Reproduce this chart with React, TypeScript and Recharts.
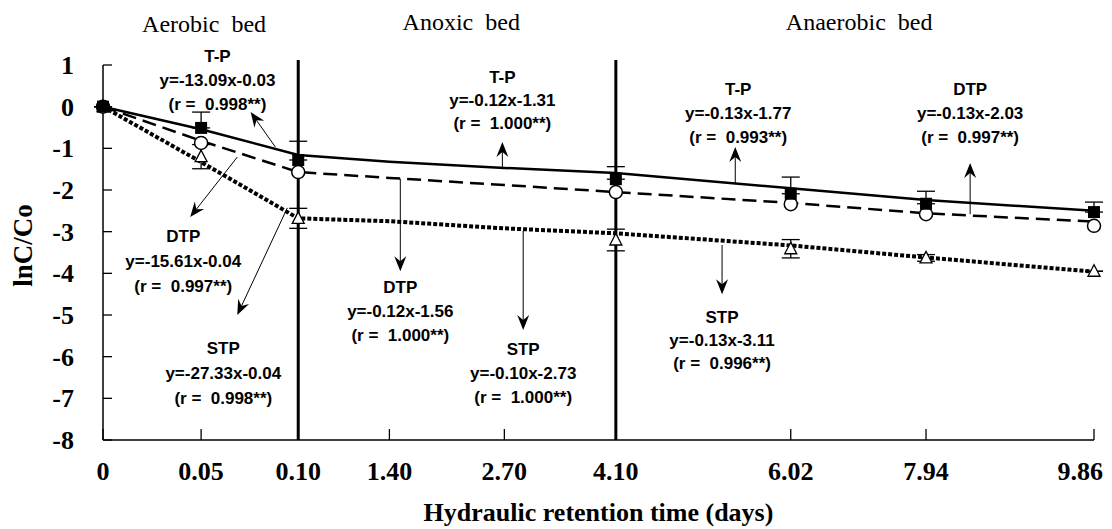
import React from "react";
import {
  ComposedChart,
  Line,
  XAxis,
  YAxis,
  ReferenceLine,
  ReferenceDot,
  ErrorBar,
} from "recharts";

document.body.style.margin = "0";

const SERIF = "'Times New Roman', 'Liberation Serif', serif";
const SANS = "Arial, 'Liberation Sans', sans-serif";

// x categories (days) and where each one sits on the uneven axis
const categories = ["0", "0.05", "0.10", "1.40", "2.70", "4.10", "6.02", "7.94", "9.86"];
const slots = [0, 0.99, 1.97, 2.89, 4.05, 5.175, 6.94, 8.305, 10];

const yTicks = [-8, -7, -6, -5, -4, -3, -2, -1, 0, 1];

// measured means (lnC/Co)
const tpMeasured = [0, -0.51, -1.28, null, null, -1.74, -2.09, -2.33, -2.53];
const dtpMeasured = [0, -0.87, -1.57, null, null, -2.05, -2.34, -2.58, -2.86];
const stpMeasured = [0, -1.2, -2.68, null, null, -3.2, -3.41, -3.63, -3.95];

// error bars [down, up]
const tpError = [[0, 0], [0, 0.38], [0, 0.45], null, null, [0, 0.3], [0, 0.4], [0, 0.3], [0, 0.24]];
const stpError = [[0, 0], [0.29, 0.29], [0.24, 0.24], null, null, [0.26, 0.26], [0.22, 0.22], [0.08, 0.08], [0, 0]];

// regression lines per bed
const tpFit = [0, -0.54, -1.16, -1.32, -1.47, -1.59, -1.96, -2.24, -2.5];
const dtpFit = [0, -0.82, -1.57, -1.71, -1.88, -2.05, -2.31, -2.56, -2.76];
const stpFit = [0, -1.33, -2.68, -2.75, -2.92, -3.04, -3.33, -3.62, -3.96];

const rows = categories.map((c, i) => ({
  slot: slots[i],
  label: c,
  tp: tpMeasured[i],
  dtp: dtpMeasured[i],
  stp: stpMeasured[i],
  tpErr: tpError[i],
  stpErr: stpError[i],
  tpFit: tpFit[i],
  dtpFit: dtpFit[i],
  stpFit: stpFit[i],
}));

// bed titles above the plot
const bedTitles = [
  { text: "Aerobic  bed", x: 1.02, y: 1.79 },
  { text: "Anoxic  bed", x: 3.615, y: 1.84 },
  { text: "Anaerobic  bed", x: 7.63, y: 1.84 },
];

// regression notes and their arrows
const notes = [
  { x: 1.155, y: 1.07, gap: 24, lines: ["T-P", "y=-13.09x-0.03", "(r =  0.998**)"] },
  { x: 0.81, y: -3.25, gap: 25, lines: ["DTP", "y=-15.61x-0.04", "(r =  0.997**)"] },
  { x: 1.214, y: -5.94, gap: 25, lines: ["STP", "y=-27.33x-0.04", "(r =  0.998**)"] },
  { x: 4.03, y: 0.57, gap: 23, lines: ["T-P", "y=-0.12x-1.31", "(r =  1.000**)"] },
  { x: 3.0, y: -4.47, gap: 24, lines: ["DTP", "y=-0.12x-1.56", "(r =  1.000**)"] },
  { x: 4.24, y: -5.96, gap: 24, lines: ["STP", "y=-0.10x-2.73", "(r =  1.000**)"] },
  { x: 6.41, y: 0.28, gap: 24, lines: ["T-P", "y=-0.13x-1.77", "(r =  0.993**)"] },
  { x: 8.75, y: 0.28, gap: 24, lines: ["DTP", "y=-0.13x-2.03", "(r =  0.997**)"] },
  { x: 6.247, y: -5.19, gap: 23, lines: ["STP", "y=-0.13x-3.11", "(r =  0.996**)"] },
];

const arrows = [
  { from: [1.74, -0.97], to: [1.49, -0.13] },
  { from: [1.355, -1.21], to: [0.88, -2.65] },
  { from: [1.86, -2.43], to: [1.355, -5.0] },
  { from: [4.03, -1.5], to: [4.03, -0.85] },
  { from: [3.0, -1.73], to: [3.0, -3.95] },
  { from: [4.24, -2.98], to: [4.24, -5.36] },
  { from: [6.38, -1.86], to: [6.38, -0.97] },
  { from: [8.75, -2.58], to: [8.75, -1.35] },
  { from: [6.247, -3.32], to: [6.247, -4.5] },
];

const dividers = [slots[2], slots[5]];

function ArrowShape(props: any) {
  const { x1, y1, x2, y2 } = props;
  const ang = Math.atan2(y2 - y1, x2 - x1);
  const c = Math.cos(ang);
  const s = Math.sin(ang);
  const len = 15;
  const hw = 6;
  const notch = 10;
  const bx = x2 - len * c;
  const by = y2 - len * s;
  const nx = x2 - notch * c;
  const ny = y2 - notch * s;
  const pts = [
    [x2, y2],
    [bx - hw * s, by + hw * c],
    [nx, ny],
    [bx + hw * s, by - hw * c],
  ]
    .map((p) => p.join(","))
    .join(" ");
  return (
    <g>
      <line x1={x1} y1={y1} x2={nx} y2={ny} stroke="#000" strokeWidth={1} />
      <polygon points={pts} fill="#000" />
    </g>
  );
}

function noteShape(lines: string[], gap: number) {
  return (props: any) => (
    <text
      x={props.cx}
      y={props.cy}
      textAnchor="middle"
      fontFamily={SANS}
      fontWeight="bold"
      fontSize={17}
      fill="#000"
      style={{ whiteSpace: "pre" }}
    >
      {lines.map((l, i) => (
        <tspan key={i} x={props.cx} dy={i === 0 ? 0 : gap}>
          {l}
        </tspan>
      ))}
    </text>
  );
}

function titleShape(text: string) {
  return (props: any) => (
    <text
      x={props.cx}
      y={props.cy}
      textAnchor="middle"
      fontFamily={SERIF}
      fontSize={24}
      fill="#000"
      style={{ whiteSpace: "pre" }}
    >
      {text}
    </text>
  );
}

function SquareDot(props: any) {
  const { cx, cy, index } = props;
  if (cx == null || cy == null || Number.isNaN(cy)) return <g key={index} />;
  return <rect key={index} x={cx - 6} y={cy - 6} width={12} height={12} fill="#000" />;
}

function CircleDot(props: any) {
  const { cx, cy, index } = props;
  if (cx == null || cy == null || Number.isNaN(cy)) return <g key={index} />;
  return <circle key={index} cx={cx} cy={cy} r={6.5} fill="#fff" stroke="#000" strokeWidth={1.5} />;
}

function TriangleDot(props: any) {
  const { cx, cy, index } = props;
  if (cx == null || cy == null || Number.isNaN(cy)) return <g key={index} />;
  const pts = `${cx},${cy - 6.5} ${cx - 6},${cy + 5} ${cx + 6},${cy + 5}`;
  return <polygon key={index} points={pts} fill="#fff" stroke="#000" strokeWidth={1.3} />;
}

function XTick(props: any) {
  const { x, y, payload } = props;
  const i = slots.indexOf(payload.value);
  const last = i === slots.length - 1;
  return (
    <g>
      <line x1={x} y1={y} x2={x} y2={y - 11} stroke="#000" strokeWidth={1.3} />
      <text
        x={last ? x + 9 : x}
        y={y + 40}
        textAnchor={last ? "end" : "middle"}
        fontFamily={SERIF}
        fontWeight="bold"
        fontSize={26}
        fill="#000"
      >
        {categories[i]}
      </text>
    </g>
  );
}

function YTick(props: any) {
  const { x, y, payload } = props;
  return (
    <g>
      <line x1={x} y1={y} x2={x + 9} y2={y} stroke="#000" strokeWidth={1.3} />
      <text x={x - 29} y={y + 9} textAnchor="end" fontFamily={SERIF} fontWeight="bold" fontSize={26} fill="#000">
        {payload.value}
      </text>
    </g>
  );
}

export default function App() {
  return (
    <ComposedChart width={1112} height={529} data={rows} margin={{ top: 65, right: 18, bottom: 0, left: 0 }}>
      <XAxis
        dataKey="slot"
        type="number"
        domain={[0, 10]}
        ticks={slots}
        interval={0}
        tick={<XTick />}
        tickLine={false}
        tickSize={0}
        tickMargin={0}
        height={89}
        axisLine={{ stroke: "#000", strokeWidth: 1.5 }}
        label={{
          content: (p: any) => {
            const vb = p.viewBox;
            return (
              <text
                x={vb.x + vb.width / 2}
                y={vb.y + 81}
                textAnchor="middle"
                fontFamily={SERIF}
                fontWeight="bold"
                fontSize={26}
                fill="#000"
              >
                Hydraulic retention time (days)
              </text>
            );
          },
        }}
      />
      <YAxis
        type="number"
        domain={[-8, 1]}
        ticks={yTicks}
        interval={0}
        width={103}
        tick={<YTick />}
        tickLine={false}
        tickSize={0}
        tickMargin={0}
        axisLine={{ stroke: "#000", strokeWidth: 1.5 }}
        label={{
          content: (p: any) => {
            const vb = p.viewBox;
            const cx = vb.x + 32;
            const cy = vb.y + vb.height / 2 - 7;
            return (
              <text
                x={cx}
                y={cy}
                transform={`rotate(-90 ${cx} ${cy})`}
                textAnchor="middle"
                fontFamily={SERIF}
                fontWeight="bold"
                fontSize={27}
                fill="#000"
              >
                lnC/Co
              </text>
            );
          },
        }}
      />

      {/* regression lines */}
      <Line dataKey="tpFit" stroke="#000" strokeWidth={2.5} dot={false} activeDot={false} isAnimationActive={false} type="linear" />
      <Line
        dataKey="dtpFit"
        stroke="#000"
        strokeWidth={2.5}
        strokeDasharray="14 7"
        dot={false}
        activeDot={false}
        isAnimationActive={false}
        type="linear"
      />
      <Line
        dataKey="stpFit"
        stroke="#000"
        strokeWidth={4}
        strokeDasharray="4 2"
        dot={false}
        activeDot={false}
        isAnimationActive={false}
        type="linear"
      />

      {dividers.map((x, i) => (
        <ReferenceLine
          key={"div" + i}
          segment={[
            { x, y: 1.12 },
            { x, y: -8 },
          ]}
          stroke="#000"
          strokeWidth={3}
          ifOverflow="visible"
        />
      ))}

      {/* measured points */}
      <Line dataKey="stp" stroke="none" dot={<TriangleDot />} activeDot={false} isAnimationActive={false}>
        <ErrorBar dataKey="stpErr" width={9} stroke="#000" strokeWidth={1.3} direction="y" />
      </Line>
      <Line dataKey="dtp" stroke="none" dot={<CircleDot />} activeDot={false} isAnimationActive={false} />
      <Line dataKey="tp" stroke="none" dot={<SquareDot />} activeDot={false} isAnimationActive={false}>
        <ErrorBar dataKey="tpErr" width={9} stroke="#000" strokeWidth={1.3} direction="y" />
      </Line>

      {arrows.map((a, i) => (
        <ReferenceLine
          key={"arr" + i}
          segment={[
            { x: a.from[0], y: a.from[1] },
            { x: a.to[0], y: a.to[1] },
          ]}
          ifOverflow="visible"
          shape={<ArrowShape />}
        />
      ))}

      {notes.map((n, i) => (
        <ReferenceDot key={"note" + i} x={n.x} y={n.y} ifOverflow="visible" shape={noteShape(n.lines, n.gap)} />
      ))}

      {bedTitles.map((t, i) => (
        <ReferenceDot key={"bed" + i} x={t.x} y={t.y} ifOverflow="visible" shape={titleShape(t.text)} />
      ))}
    </ComposedChart>
  );
}
